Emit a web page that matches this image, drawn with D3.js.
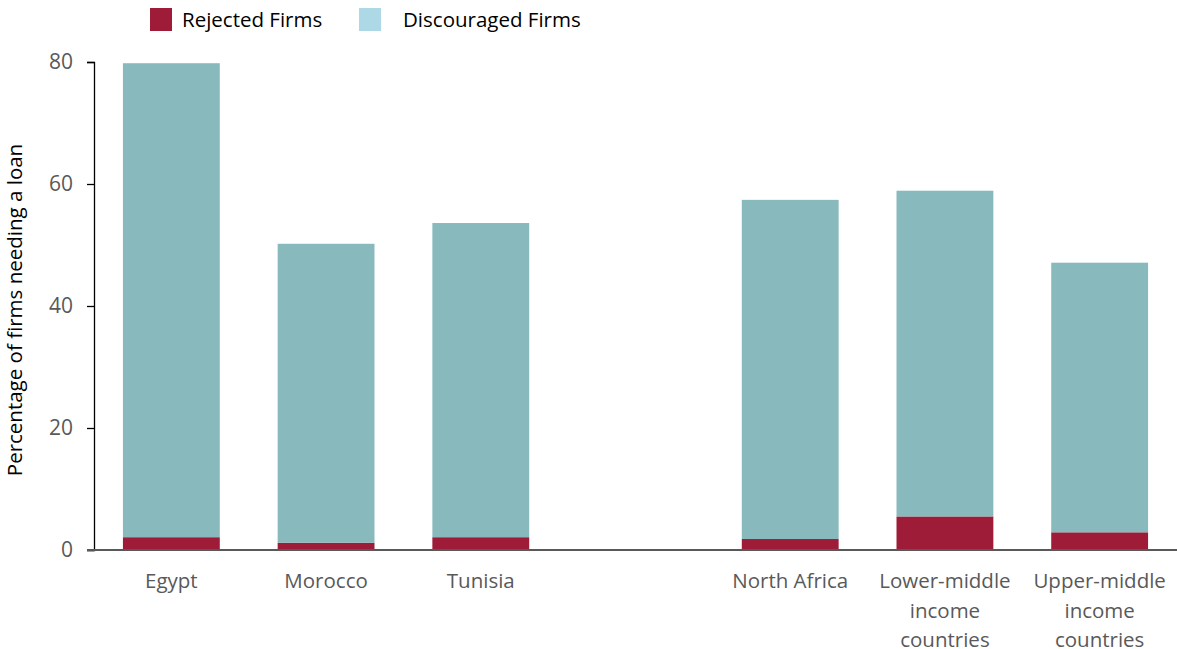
<!DOCTYPE html>
<html>
<head>
<meta charset="utf-8">
<style>
  body { margin: 0; background: #fff; }
  text { font-family: "Open Sans", "Noto Sans", sans-serif; }
</style>
</head>
<body>
<svg width="1177" height="649"></svg>
<script src="https://d3js.org/d3.v7.min.js"></script>
<script>
// data
var categories = ["Egypt", "Morocco", "Tunisia", "gap", "North Africa", "Lower-middle income countries", "Upper-middle income countries"];
var labelLines = {
  "Egypt": ["Egypt"],
  "Morocco": ["Morocco"],
  "Tunisia": ["Tunisia"],
  "gap": [],
  "North Africa": ["North Africa"],
  "Lower-middle income countries": ["Lower-middle", "income", "countries"],
  "Upper-middle income countries": ["Upper-middle", "income", "countries"]
};
var barCategories = ["Egypt", "Morocco", "Tunisia", "North Africa", "Lower-middle income countries", "Upper-middle income countries"];
var rejected = [2.1, 1.2, 2.1, 1.8, 5.5, 2.9];
var discouraged = [77.7, 49.0, 51.5, 55.6, 53.4, 44.2];
var yTicks = [0, 20, 40, 60, 80];
var seriesNames = ["Rejected Firms", "Discouraged Firms"];

var svg = d3.select("svg");
var margin = {top: 62, right: 0, bottom: 99, left: 94};
var width = +svg.attr("width") - margin.left - margin.right;
var height = +svg.attr("height") - margin.top - margin.bottom;

var chart = svg.append("g")
    .attr("transform", "translate(" + margin.left + "," + margin.top + ")");

var x = d3.scaleBand()
    .domain(categories)
    .range([0, width])
    .paddingInner(0.374)
    .paddingOuter(0.187);

var y = d3.scaleLinear()
    .domain([0, 80])
    .range([height, 0]);

var rows = barCategories.map(function(c, i) {
  return {cat: c, rejected: rejected[i], discouraged: discouraged[i]};
});
var stack = d3.stack().keys(["rejected", "discouraged"]);
var layers = stack(rows);
var colors = {rejected: "#9E1C38", discouraged: "#88B9BC"};

chart.selectAll("g.layer")
  .data(layers)
  .enter().append("g")
    .attr("class", "layer")
    .attr("fill", function(d) { return colors[d.key]; })
  .selectAll("rect")
  .data(function(d) { return d; })
  .enter().append("rect")
    .attr("x", function(d) { return x(d.data.cat); })
    .attr("width", x.bandwidth())
    .attr("y", function(d) { return y(d[1]); })
    .attr("height", function(d) { return y(d[0]) - y(d[1]); });

// y axis
var yAxis = chart.append("g")
    .call(d3.axisLeft(y).tickValues(yTicks).tickSize(7).tickPadding(14));
yAxis.select(".domain").attr("stroke", "#000").attr("stroke-width", 1.3);
yAxis.selectAll(".tick line").attr("stroke", "#000").attr("stroke-width", 1.3);
yAxis.selectAll(".tick text")
    .attr("fill", "#595959")
    .style("font-size", "21px");

// x axis baseline
var xAxis = chart.append("g")
    .attr("transform", "translate(0," + height + ")")
    .call(d3.axisBottom(x).tickSize(0).tickFormat(""));
xAxis.select(".domain")
    .attr("d", "M-7,0H" + width)
    .attr("stroke", "#595959")
    .attr("stroke-width", 2);

// category labels
xAxis.selectAll(".tick").each(function(c) {
  var t = d3.select(this).append("text")
      .attr("fill", "#595959")
      .attr("text-anchor", "middle")
      .style("font-size", "20.5px");
  labelLines[c].forEach(function(line, i) {
    t.append("tspan")
      .attr("x", 0)
      .attr("y", 38 + i * 29.5)
      .text(line);
  });
});

// y title
svg.append("text")
    .attr("transform", "translate(22," + 310 + ") rotate(-90)")
    .attr("text-anchor", "middle")
    .attr("fill", "#000")
    .style("font-size", "20.5px")
    .text("Percentage of firms needing a loan");

// legend
var legendX = [150, 359];
var legendTextX = [182, 403];
var legendColors = ["#9E1C38", "#ADD8E6"];
var legend = svg.append("g");
seriesNames.forEach(function(name, i) {
  legend.append("rect")
    .attr("x", legendX[i]).attr("y", 8)
    .attr("width", 22).attr("height", 23)
    .attr("fill", legendColors[i]);
  legend.append("text")
    .attr("x", legendTextX[i]).attr("y", 26.5)
    .attr("fill", "#000")
    .style("font-size", "20.5px")
    .text(name);
});
</script>
</body>
</html>
